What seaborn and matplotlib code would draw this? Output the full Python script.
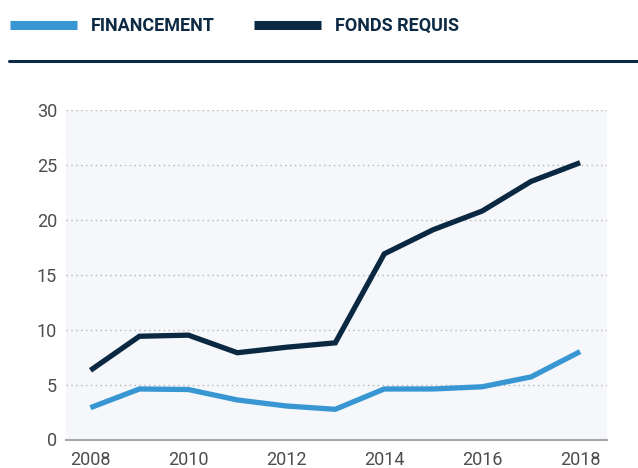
import pandas as pd
import matplotlib
matplotlib.use("Agg")
import matplotlib.pyplot as plt
from matplotlib.lines import Line2D
import seaborn as sns

# values (millions)
years = [2008, 2009, 2010, 2011, 2012, 2013, 2014, 2015, 2016, 2017, 2018]
financement = [2.9, 4.6, 4.55, 3.6, 3.05, 2.75, 4.6, 4.6, 4.8, 5.7, 8.0]
fonds_requis = [6.3, 9.4, 9.5, 7.9, 8.4, 8.8, 16.9, 19.1, 20.8, 23.5, 25.2]
series_names = ["FINANCEMENT", "FONDS REQUIS"]
colors = ["#3897d3", "#0a2842"]
x_ticks = [2008, 2010, 2012, 2014, 2016, 2018]
y_ticks = [0, 5, 10, 15, 20, 25, 30]

df = pd.DataFrame({
    "year": years * 2,
    "value": financement + fonds_requis,
    "serie": [series_names[0]] * len(years) + [series_names[1]] * len(years),
})

sns.set_style("white")
plt.rcParams["font.family"] = ["Roboto", "DejaVu Sans"]

fig = plt.figure(figsize=(6.38, 4.68), dpi=100)
ax = fig.add_axes([66 / 638, 1 - 439.5 / 468, (607 - 66) / 638, (439.5 - 110) / 468])
ax.set_facecolor("#f5f7fa")

sns.lineplot(data=df, x="year", y="value", hue="serie", palette=colors,
             linewidth=3.8, ax=ax, legend=False, zorder=3)
for ln in ax.get_lines():
    ln.set_solid_capstyle("butt")
    ln.set_solid_joinstyle("miter")

ax.set_xlim(2007.5, 2018.55)
ax.set_ylim(0, 30)
ax.set_xticks(x_ticks)
ax.set_yticks(y_ticks)
ax.set_xlabel("")
ax.set_ylabel("")
ax.tick_params(length=0, labelsize=13, labelcolor="#4d4d4d")
ax.tick_params(axis="y", pad=6.5)
ax.tick_params(axis="x", pad=8.5)

ax.yaxis.grid(True, color="#b5b5b5", linestyle=(0, (1, 2.5)), linewidth=1)
ax.set_axisbelow(True)
for side in ["top", "right", "left"]:
    ax.spines[side].set_visible(False)
ax.spines["bottom"].set_color("#a8a8a8")
ax.spines["bottom"].set_linewidth(1.5)

# legend at the top
handles = [Line2D([], [], color=c, linewidth=6.5, solid_capstyle="butt") for c in colors]
leg = fig.legend(handles, series_names, loc="center left", bbox_to_anchor=(3 / 638, 1 - 26 / 468),
                 ncol=2, frameon=False, handlelength=3.7, handletextpad=0.75,
                 columnspacing=2.2, borderaxespad=0, borderpad=0.4,
                 prop={"family": "Roboto", "weight": "bold", "size": 13})
for t in leg.get_texts():
    t.set_color("#0d2a45")

# horizontal rule under the legend
fig.add_artist(Line2D([9 / 638, 1], [1 - 61 / 468, 1 - 61 / 468], transform=fig.transFigure,
                      color="#0d2a45", linewidth=2.2))

fig.savefig("out.png", dpi=100)
